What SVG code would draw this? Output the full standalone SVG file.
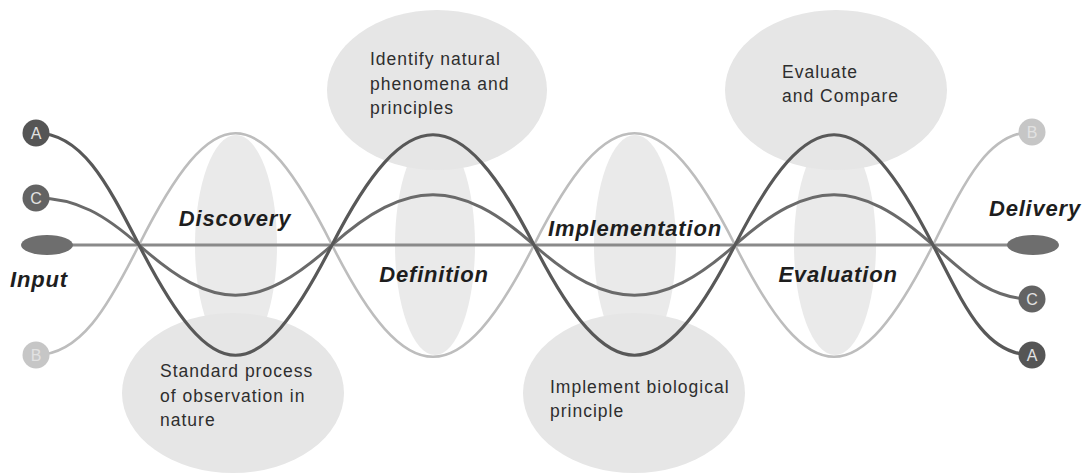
<svg xmlns="http://www.w3.org/2000/svg" width="1090" height="474" viewBox="0 0 1090 474">
  <style>
    .bubble { fill: #e6e6e6; }
    .pillar { fill: #eaeaea; }
    .phase { font-family: "Liberation Sans", Arial, sans-serif; font-size: 22px; font-weight: bold; font-style: italic; fill: #1e1e1e; letter-spacing: 0.8px; text-anchor: middle; }
    .note { font-family: "Liberation Sans", Arial, sans-serif; font-size: 17.5px; fill: #2e2e2e; letter-spacing: 1px; }
    .tag { font-family: "Liberation Sans", Arial, sans-serif; font-size: 16px; fill: #e2e2e2; text-anchor: middle; }
    .strand { fill: none; stroke-linecap: round; }
    .sA { stroke: #585858; stroke-width: 3.2; }
    .sC { stroke: #6a6a6a; stroke-width: 3; }
    .sB { stroke: #bdbdbd; stroke-width: 2.6; }
    .axis { stroke: #8a8a8a; stroke-width: 3; }
    .end { fill: #6e6e6e; }
  </style>

  <!-- background shapes: vertical pillars per phase -->
  <g id="pillars">
    <ellipse class="pillar" cx="236" cy="245" rx="41" ry="110"/>
    <ellipse class="pillar" cx="435" cy="245" rx="40" ry="110"/>
    <ellipse class="pillar" cx="635" cy="245" rx="41" ry="110"/>
    <ellipse class="pillar" cx="835" cy="245" rx="41" ry="110"/>
  </g>

  <!-- description bubbles -->
  <g id="bubble-observation">
    <ellipse class="bubble" cx="233" cy="393" rx="111" ry="80"/>
    <text class="note" x="160" y="377">Standard process</text>
    <text class="note" x="160" y="402">of observation in</text>
    <text class="note" x="160" y="426">nature</text>
  </g>
  <g id="bubble-identify">
    <ellipse class="bubble" cx="437" cy="90" rx="110" ry="80"/>
    <text class="note" x="370" y="65">Identify natural</text>
    <text class="note" x="370" y="90">phenomena and</text>
    <text class="note" x="370" y="114">principles</text>
  </g>
  <g id="bubble-implement">
    <ellipse class="bubble" cx="634" cy="393" rx="111" ry="80"/>
    <text class="note" x="550" y="393">Implement biological</text>
    <text class="note" x="550" y="417">principle</text>
  </g>
  <g id="bubble-evaluate">
    <ellipse class="bubble" cx="836" cy="90" rx="111" ry="80"/>
    <text class="note" x="782" y="78">Evaluate</text>
    <text class="note" x="782" y="102">and Compare</text>
  </g>

  <!-- connectors: main axis and the three braided strands -->
  <g id="connectors">
    <line class="axis" x1="47" y1="245" x2="1033" y2="245"/>
    <path class="strand sB" d="M 36,355 C 80,355 107.5,308 139,245 C 214,96 257,96 332,245 C 407,394 459,394 534,245 C 609,96 660,96 735,245 C 810,394 858,394 933,245 C 964.5,182 988,132 1032,132"/>
    <path class="strand sC" d="M 36,198 C 77,198 105,215 139,245 C 214,312 257,312 332,245 C 407,178 459,178 534,245 C 609,312 660,312 735,245 C 810,178 858,178 933,245 C 967,275 990,299 1032,299"/>
    <path class="strand sA" d="M 36,133 C 82,133 107.5,184 139,245 C 214,392 257,392 332,245 C 407,98 459,98 534,245 C 609,392 660,392 735,245 C 810,98 858,98 933,245 C 964.5,306 985,355 1032,355"/>
  </g>

  <!-- endpoints -->
  <g id="input">
    <ellipse class="end" cx="47" cy="245" rx="26" ry="10"/>
    <text class="phase" x="39" y="287">Input</text>
  </g>
  <g id="delivery">
    <ellipse class="end" cx="1033" cy="245" rx="26" ry="10"/>
    <text class="phase" x="1035" y="216">Delivery</text>
  </g>
  <g id="start-A"><circle cx="36" cy="133" r="13.5" fill="#555"/><text class="tag" x="36" y="139">A</text></g>
  <g id="start-C"><circle cx="36" cy="198" r="13.5" fill="#636363"/><text class="tag" x="36" y="204">C</text></g>
  <g id="start-B"><circle cx="36" cy="355" r="13.5" fill="#c6c6c6"/><text class="tag" x="36" y="361" fill="#ececec">B</text></g>
  <g id="end-B"><circle cx="1032" cy="132" r="13.5" fill="#c6c6c6"/><text class="tag" x="1032" y="138" fill="#ececec">B</text></g>
  <g id="end-C"><circle cx="1032" cy="299" r="13.5" fill="#636363"/><text class="tag" x="1032" y="305">C</text></g>
  <g id="end-A"><circle cx="1032" cy="355" r="13.5" fill="#555"/><text class="tag" x="1032" y="361">A</text></g>

  <!-- phase labels -->
  <g id="phase-discovery"><text class="phase" x="235" y="226">Discovery</text></g>
  <g id="phase-definition"><text class="phase" x="434" y="282">Definition</text></g>
  <g id="phase-implementation"><text class="phase" x="635" y="236">Implementation</text></g>
  <g id="phase-evaluation"><text class="phase" x="838" y="282">Evaluation</text></g>
</svg>
